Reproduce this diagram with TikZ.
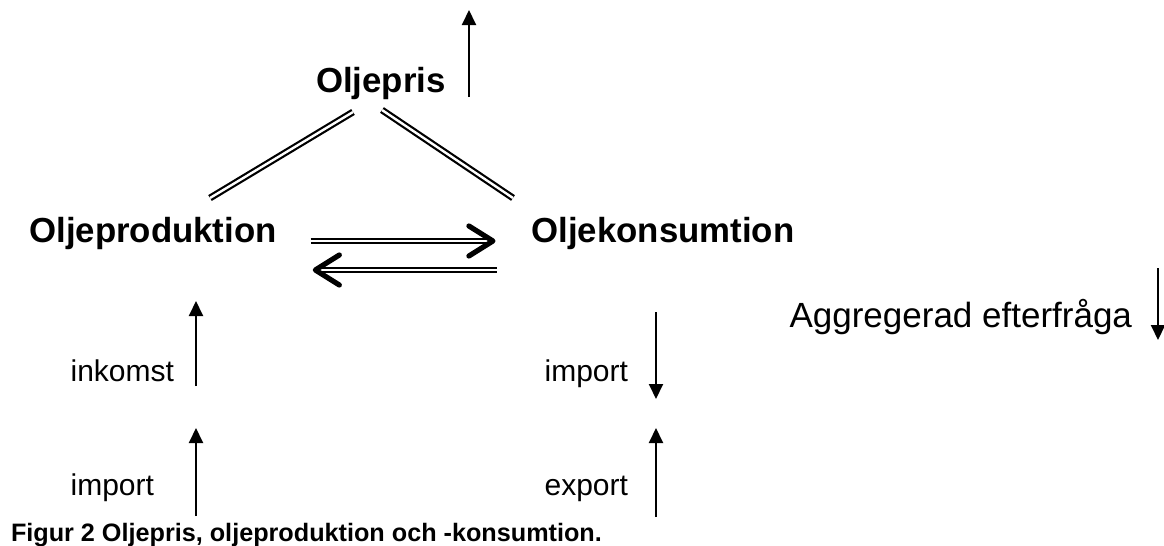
\documentclass[tikz,border=0pt]{standalone}
\usepackage{fontspec}
\setmainfont{Liberation Sans}
\usetikzlibrary{calc}
\usetikzlibrary{positioning}
\usetikzlibrary{arrows.meta}

\begin{document}
\begin{tikzpicture}[x=0.5pt, y=-0.5pt, line width=1pt, >={Triangle[length=7.5pt, width=7pt]}]
			\tikzstyle{main}=[font=\fontsize{17.4}{20}\selectfont\bfseries, inner sep=0pt, anchor=base]
			\tikzstyle{small}=[font=\fontsize{15}{18}\selectfont, inner sep=0pt, anchor=base east]
			\tikzstyle{dbl}=[double, double distance=1.2pt, line width=1.1pt]
			\tikzstyle{barb}=[line width=2.6pt, -{Straight Barb[length=12pt, width=15pt, round]}]

			\useasboundingbox (0,0) rectangle (1164,546);

			\node[main] (pris) at (381,92) {Oljepris};
			\node[main] (prod) at (153,242) {Oljeproduktion};
			\node[main] (kons) at (663,242) {Oljekonsumtion};

			% links to the price
			\draw[dbl] ($(pris.base)+(-28,20)$) -- ($(prod.base)+(57,-44)$);
			\draw[dbl] ($(pris.base)+(1,18)$) -- ($(kons.base)+(-150,-44)$);

			% flows between production and consumption
			\coordinate (ra) at ($(prod.base east)+(33,-1)$);
			\coordinate (rb) at ($(kons.base west)+(-35,-1)$);
			\coordinate (la) at ($(kons.base west)+(-34,28)$);
			\coordinate (lb) at ($(prod.base east)+(35,28)$);
			\draw[dbl] (ra) -- ($(rb)+(-4,0)$);
			\draw[barb] ($(rb)+(-5,0)$) -- (rb);
			\draw[dbl] (la) -- ($(lb)+(4,0)$);
			\draw[barb] ($(lb)+(5,0)$) -- (lb);

			% price goes up
			\coordinate (pu) at ($(pris.base)+(88,5)$);
			\draw[->] (pu) -- ++(0,-87);

			\node[small] (inkomst) at (175,381) {inkomst};
			\node[small] (impA) at (155,495) {import};
			\node[small] (impB) at (629,381) {import};
			\node[small] (export) at (629,495) {export};
			\node[font=\fontsize{17.5}{20}\selectfont, inner sep=0pt, anchor=base east] (agg) at (1133,327) {Aggregerad efterfr\aa ga};

			\draw[->] ($(inkomst.base east)+(21,5)$) -- ++(0,-85);
			\draw[->] ($(impA.base east)+(41,21)$) -- ++(0,-88);
			\draw[->] ($(impB.base east)+(27,-69)$) -- ++(0,87);
			\draw[->] ($(export.base east)+(27,22)$) -- ++(0,-89);
			\draw[->] ($(agg.base east)+(25,-59)$) -- ++(0,72);

			\node[font=\fontsize{12.6}{15}\selectfont\bfseries, inner sep=0pt, anchor=base west] (caption) at (10,541) {Figur 2 Oljepris, oljeproduktion och -konsumtion.};
\end{tikzpicture}
\end{document}
